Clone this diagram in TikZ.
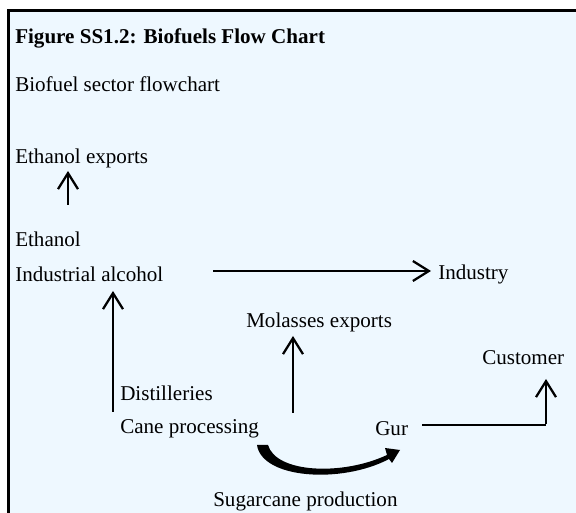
\documentclass[tikz,border=0pt]{standalone}
\usepackage{fontspec}
\setmainfont{Liberation Serif}
\usetikzlibrary{arrows.meta}
\definecolor{bgblue}{HTML}{EEF8FF}
\tikzset{
  lbl/.style={anchor=west, inner sep=0pt, font=\fontsize{15.8}{19}\selectfont},
  flow/.style={line width=1.7pt, -{Straight Barb[length=12pt, width=15pt, line width=1.7pt]}},
  plain/.style={line width=1.7pt}
}
\begin{document}
\begin{tikzpicture}[x=0.75pt, y=-0.75pt]
\useasboundingbox (0,0) rectangle (576,513);
\clip (0,0) rectangle (576,513);
\draw[line width=2.4pt, fill=bgblue] (8.5,10.5) rectangle (590,530);

\node[lbl, font=\fontsize{15.8}{19}\selectfont\bfseries] (title) at (15,38) {Figure SS1.2: Biofuels Flow Chart};
\node[lbl] (sub) at (15,84) {Biofuel sector flowchart};
\node[lbl] (ethexp) at (15,158) {Ethanol exports};
\node[lbl] (eth) at (15,239) {Ethanol};
\node[lbl] (indalc) at (15,274) {Industrial alcohol};
\node[lbl] (industry) at (438,274) {Industry};
\node[lbl] (molexp) at (246,322) {Molasses exports};
\node[lbl] (customer) at (482,358) {Customer};
\node[lbl] (distil) at (120,393) {Distilleries};
\node[lbl] (cane) at (120,429) {Cane processing};
\node[lbl] (gur) at (375,429) {Gur};
\node[lbl] (sugar) at (213,501) {Sugarcane production};

\coordinate (a1s) at (68,205); \coordinate (a1e) at (68,171);
\coordinate (a2s) at (213,271); \coordinate (a2e) at (431,271);
\coordinate (a3s) at (113,412); \coordinate (a3e) at (113,291);
\coordinate (a4s) at (293,413); \coordinate (a4e) at (293,336);
\coordinate (a5s) at (422,425); \coordinate (a5c) at (546,425); \coordinate (a5e) at (546,379);

\draw[flow] (a1s) -- (a1e);
\draw[flow] (a2s) -- (a2e);
\draw[flow] (a3s) -- (a3e);
\draw[flow] (a4s) -- (a4e);
\draw[plain] (a5s) -- (a5c);
\draw[flow] ([yshift=0.85pt]a5c) -- (a5e);

\fill (257,445) .. controls (262,479) and (342,484) .. (389,459)
  -- (392,463) -- (400,450) -- (385,448) -- (387,455)
  .. controls (342,476) and (276,473) .. (268,445) -- cycle;
\end{tikzpicture}
\end{document}
